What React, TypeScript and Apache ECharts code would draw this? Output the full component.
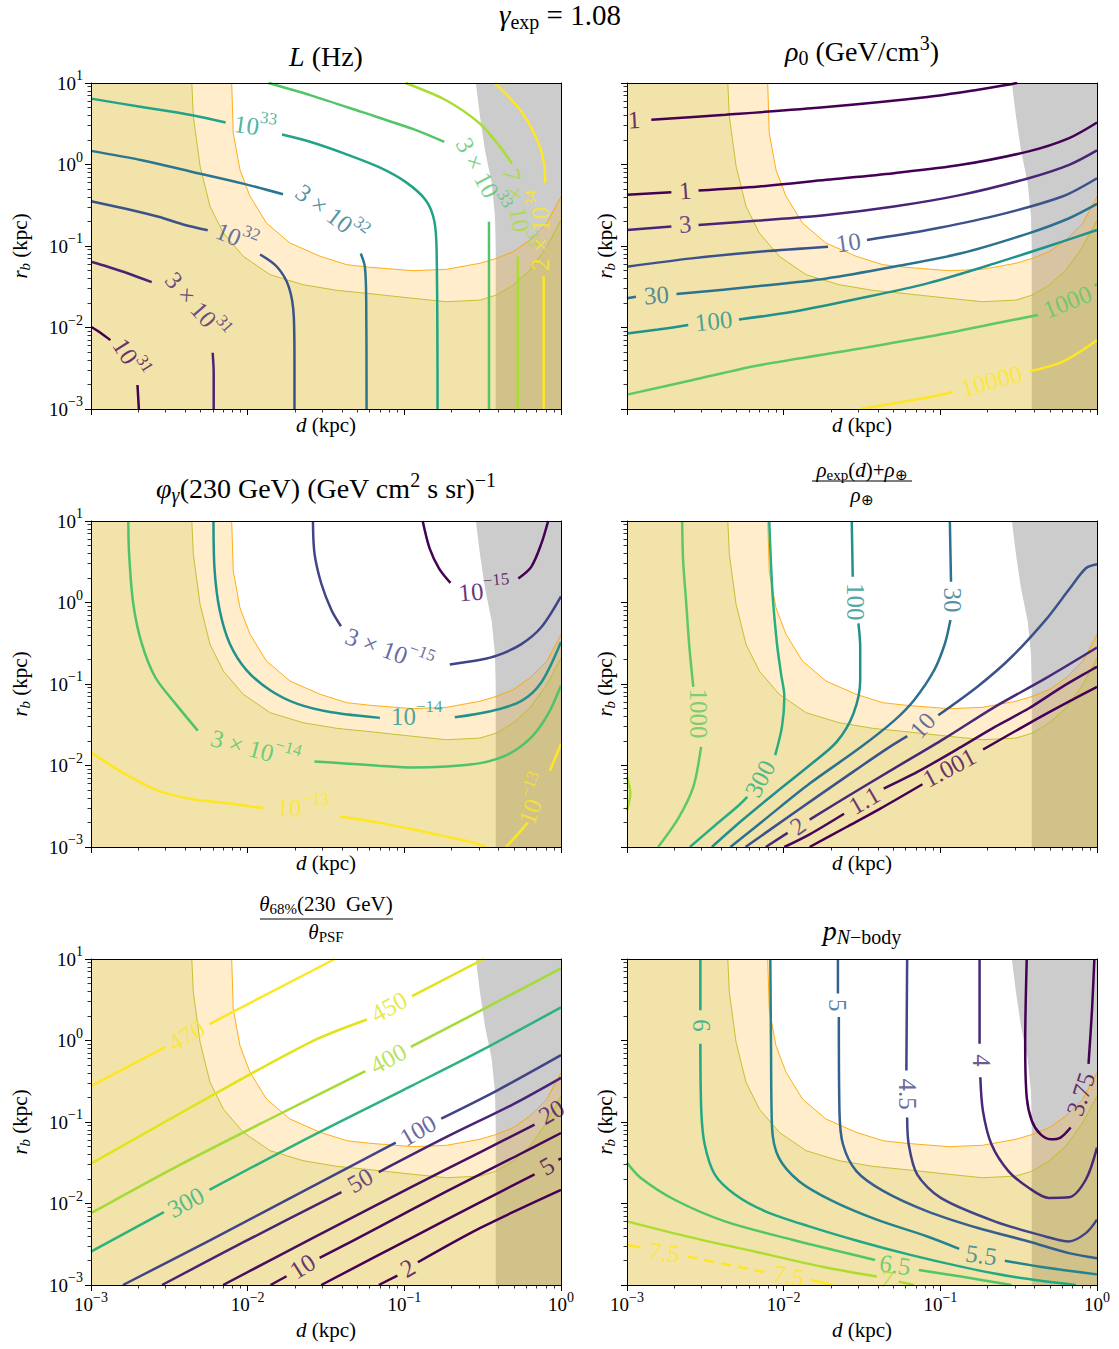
import React, { useEffect, useRef } from 'react';
import * as echarts from 'echarts';

type Pt = [number, number];
type Seg = Pt[];
type LabelAt = [number, number, number];

const FONT = 'Liberation Serif';

// ---------- shared region boundaries (d kpc, r_b kpc) ----------
const INNER_BOUNDARY: Pt[] = [
  [7.91e-3, 10], [8.09e-3, 2.44], [8.93e-3, 0.863], [1.035e-2, 0.408], [1.32e-2, 0.191],
  [1.86e-2, 0.109], [2.9e-2, 0.0748], [4.29e-2, 0.059], [6.04e-2, 0.0548], [0.114, 0.0498],
  [0.186, 0.0518], [0.304, 0.0614], [0.389, 0.0707], [0.495, 0.0851], [0.634, 0.1186],
  [0.811, 0.19], [1, 0.403],
];
const OUTER_BOUNDARY: Pt[] = [
  [4.4e-3, 10], [4.5e-3, 3.9], [4.97e-3, 0.95], [5.75e-3, 0.307], [6.99e-3, 0.1445],
  [9.37e-3, 0.0748], [1.39e-2, 0.0445], [2.26e-2, 0.0335], [3.7e-2, 0.0286], [6.04e-2, 0.026],
  [0.114, 0.0228], [0.186, 0.0207], [0.304, 0.0217], [0.389, 0.0251], [0.495, 0.0332],
  [0.634, 0.0508], [0.811, 0.098], [1, 0.208],
];
const GRAY_BOUNDARY: Pt[] = [
  [0.286, 10], [0.304, 3.9], [0.327, 1.51], [0.361, 0.593], [0.379, 0.233], [0.383, 0.1], [0.383, 1e-3],
];

// ---------- panel 1: L (Hz) ----------
const L_TEXTS = ['10^{31}', '3 × 10^{31}', '10^{32}', '3 × 10^{32}', '10^{33}', '3 × 10^{33}', '7 × 10^{33}', '2 × 10^{34}'];
const L_COLORS = ['#440154', '#482475', '#3b528b', '#2a768e', '#20a386', '#52c569', '#aadc32', '#fde725'];
const L_LINES: Seg[][] = [
  [[[1e-3, 0.0102], [1.16e-3, 8.5e-3], [1.33e-3, 7.0e-3]],
   [[1.98e-3, 1.97e-3], [2.0e-3, 1.42e-3], [2.02e-3, 1e-3]]],
  [[[1e-3, 0.064], [1.28e-3, 0.0556], [1.73e-3, 0.046], [2.44e-3, 0.036]],
   [[5.98e-3, 4.9e-3], [6.07e-3, 2.73e-3], [6.07e-3, 1e-3]]],
  [[[1e-3, 0.355], [1.64e-3, 0.288], [2.7e-3, 0.228], [3.83e-3, 0.185], [5.56e-3, 0.156]],
   [[0.012, 0.0787], [0.01538, 0.0556], [0.0183, 0.0316], [0.0197, 0.0136], [0.0199, 3.3e-3], [0.0199, 1e-3]]],
  [[[1e-3, 1.47], [2.11e-3, 1.13], [4.44e-3, 0.811], [9.35e-3, 0.583], [0.01683, 0.431]],
   [[0.0527, 0.081], [0.056, 0.0556], [0.0571, 0.0217], [0.0574, 1e-3]]],
  [[[1e-3, 6.43], [2.11e-3, 5.08], [4.44e-3, 4.02], [7.23e-3, 3.27]],
   [[0.01656, 2.33], [0.0253, 1.89], [0.0416, 1.36], [0.0684, 0.933], [0.1017, 0.612], [0.137, 0.365], [0.155, 0.207], [0.1607, 0.0889], [0.163, 1e-3]]],
  [[[0.0136, 10], [0.0253, 7.06], [0.0533, 4.42], [0.112, 2.75], [0.18, 1.89]],
   [[0.347, 0.198], [0.347, 1e-3]]],
  [[[0.1017, 10], [0.1846, 6.14], [0.303, 3.18], [0.409, 1.64], [0.486, 1.03]],
   [[0.53, 0.0736], [0.53, 1e-3]]],
  [[[0.379, 10], [0.551, 4.62], [0.706, 1.98], [0.78, 1.03], [0.792, 0.594]],
   [[0.775, 0.0428], [0.775, 1e-3]]],
];
const L_LABEL_AT: LabelAt[][] = [
  [[1.77e-3, 4.18e-3, -58]], [[4.71e-3, 0.0183, -49]], [[8.47e-3, 0.127, -22]], [[0.034, 0.25, -37]],
  [[0.01114, 2.94, -8]], [[0.311, 0.738, -62]], [[0.53, 0.288, -80]], [[0.745, 0.156, 90]],
];

// ---------- panel 2: rho_0 ----------
const RHO_TEXTS = ['1', '1', '3', '10', '30', '100', '1000', '10000'];
const RHO_COLORS = ['#440154', '#440154', '#482576', '#3b528b', '#2c728e', '#21918c', '#5ec962', '#fde725'];
const RHO_LINES: Seg[][] = [
  [[[1.43e-3, 3.54], [4.25e-3, 4.08], [0.01875, 5.07], [0.0828, 6.73], [0.174, 8.28], [0.293, 9.8], [0.31, 10]]],
  [[[1e-3, 0.424], [1.92e-3, 0.457]],
   [[2.86e-3, 0.479], [6.97e-3, 0.537], [0.01875, 0.648], [0.0505, 0.782], [0.136, 0.99], [0.366, 1.45], [0.664, 2.11], [1, 3.28]]],
  [[[1e-3, 0.157], [1.92e-3, 0.173]],
   [[2.86e-3, 0.181], [6.97e-3, 0.205], [0.01875, 0.24], [0.0505, 0.305], [0.136, 0.424], [0.366, 0.679], [0.664, 0.99], [1, 1.49]]],
  [[[1e-3, 0.0557], [2.59e-3, 0.0705], [6.97e-3, 0.0851], [0.0192, 0.0982]],
   [[0.034, 0.1186], [0.0828, 0.157], [0.223, 0.234], [0.6, 0.405], [1, 0.679]]],
  [[[1e-3, 0.0228], [1.14e-3, 0.0238]],
   [[2.07e-3, 0.0257], [6.97e-3, 0.0322], [0.01875, 0.04], [0.0505, 0.0557], [0.136, 0.0813], [0.366, 0.143], [0.664, 0.219], [1, 0.328]]],
  [[[1e-3, 8.44e-3], [1.58e-3, 9.44e-3], [2.46e-3, 0.0107]],
   [[5.18e-3, 0.01254], [0.01143, 0.0156], [0.0308, 0.0228], [0.0828, 0.0348], [0.223, 0.0612], [0.6, 0.113], [1, 0.157]]],
  [[[1e-3, 1.5e-3], [2.59e-3, 2.25e-3], [6.97e-3, 3.44e-3], [0.0308, 5.52e-3], [0.0828, 7.68e-3], [0.223, 0.0112], [0.42, 0.0142]],
   [[0.966, 0.0328], [1, 0.0341]]],
  [[[0.0308, 1e-3], [0.0828, 1.38e-3], [0.12, 1.62e-3]],
   [[0.373, 2.9e-3], [0.6, 3.78e-3], [1, 6.98e-3]]],
];
const RHO_LABEL_AT: LabelAt[][] = [
  [[1.11e-3, 3.54, 3]], [[2.35e-3, 0.479, 4]], [[2.35e-3, 0.186, 4]], [[0.0259, 0.111, 8]],
  [[1.54e-3, 0.025, 4]], [[3.57e-3, 0.012, 6]], [[0.647, 0.0207, 22]], [[0.212, 2.21e-3, 15]],
];

// ---------- panel 3: phi_gamma ----------
const PHI_TEXTS = ['10^{−15}', '3 × 10^{−15}', '10^{−14}', '3 × 10^{−14}', '10^{−13}'];
const PHI_COLORS = ['#440154', '#414487', '#21918c', '#4ec36b', '#fde725'];
const PHI_LINES: Seg[][] = [
  [[[0.131, 10], [0.145, 4.61], [0.1667, 2.61], [0.197, 1.74]],
   [[0.534, 1.97], [0.646, 2.74], [0.75, 5.31], [0.828, 10]]],
  [[[0.0261, 10], [0.0267, 4.0], [0.0295, 1.71], [0.0343, 0.803], [0.0394, 0.511]],
   [[0.195, 0.174], [0.306, 0.198], [0.393, 0.224], [0.556, 0.306], [0.75, 0.5], [1, 1.19]]],
  [[[6.05e-3, 10], [6.15e-3, 2.5], [6.63e-3, 0.803], [7.69e-3, 0.312], [9.86e-3, 0.147], [0.014, 0.0832], [0.0208, 0.057], [0.0343, 0.045], [0.0698, 0.0384]],
   [[0.21, 0.039], [0.355, 0.0463], [0.556, 0.0615], [0.75, 0.105], [1, 0.327]]],
  [[[1.73e-3, 10], [1.75e-3, 4.0], [1.86e-3, 0.97], [2.11e-3, 0.312], [2.57e-3, 0.121], [3.47e-3, 0.057], [4.8e-3, 0.0268]],
   [[0.0267, 0.0112], [0.0418, 0.0106], [0.0687, 9.93e-3], [0.113, 9.46e-3], [0.186, 9.75e-3], [0.306, 0.0107], [0.456, 0.0136], [0.646, 0.0222], [0.828, 0.043], [1, 0.096]]],
  [[[1e-3, 0.0145], [1.28e-3, 0.0106], [1.73e-3, 7.48e-3], [2.7e-3, 4.89e-3], [4.45e-3, 3.86e-3], [7.69e-3, 3.41e-3], [0.01265, 2.99e-3]],
   [[0.0388, 2.36e-3], [0.0687, 1.99e-3], [0.113, 1.65e-3], [0.186, 1.34e-3], [0.277, 1.13e-3], [0.334, 1e-3]],
   [[0.445, 1e-3], [0.529, 1.43e-3], [0.614, 1.99e-3]],
   [[0.849, 8.61e-3], [1, 0.0184]]],
];
const PHI_LABEL_AT: LabelAt[][] = [
  [[0.324, 1.39, 5]], [[0.0798, 0.258, -20]], [[0.12, 0.0398, 0]], [[0.01117, 0.0159, -15]],
  [[0.0224, 2.99e-3, -3], [0.678, 3.86e-3, 70]],
];

// ---------- panel 4: (rho_exp(d)+rho_E)/rho_E ----------
const DEN_TEXTS = ['1.001', '1.1', '2', '10', '30', '100', '300', '1000', ''];
const DEN_COLORS = ['#440154', '#46085c', '#482878', '#3b528b', '#2c728e', '#21918c', '#28ae80', '#5ec962', '#addc30'];
const DEN_LINES: Seg[][] = [
  [[[0.01465, 1e-3], [0.0252, 1.76e-3], [0.0414, 2.96e-3], [0.0769, 5.89e-3]],
   [[0.1875, 0.0157], [0.366, 0.0327], [0.6, 0.055], [1, 0.0923]]],
  [[[0.0101, 1e-3], [0.01465, 1.43e-3], [0.0243, 2.56e-3]],
   [[0.0435, 5.21e-3], [0.0714, 8.34e-3], [0.136, 0.0169], [0.223, 0.0298], [0.366, 0.05], [0.6, 0.0923], [1, 0.163]]],
  [[[7.69e-3, 1e-3], [0.0106, 1.49e-3]],
   [[0.01465, 2.17e-3], [0.0252, 4.11e-3], [0.0505, 9.16e-3], [0.106, 0.0214], [0.223, 0.0525], [0.469, 0.117], [1, 0.28]]],
  [[[5.71e-3, 1e-3], [0.01143, 2.56e-3], [0.024, 6.9e-3], [0.0457, 0.0161], [0.0615, 0.0229]],
   [[0.097, 0.0414], [0.174, 0.094], [0.286, 0.216], [0.469, 0.608], [0.664, 1.45], [0.849, 2.63], [1, 2.94]]],
  [[[4.57e-3, 1e-3], [7.69e-3, 2.23e-3], [0.01465, 6.0e-3], [0.0308, 0.0166], [0.0505, 0.0353], [0.0679, 0.0633], [0.0914, 0.148], [0.107, 0.314], [0.116, 0.608]],
   [[0.117, 1.8], [0.115, 10]]],
  [[[3.48e-3, 1e-3], [5.43e-3, 2.13e-3], [9.37e-3, 5.06e-3], [0.01465, 0.01007], [0.0218, 0.0195], [0.0279, 0.0435], [0.0308, 0.111], [0.0308, 0.286], [0.03, 0.553]],
   [[0.0276, 2.07], [0.0272, 10]]],
  [[[2.52e-3, 1e-3], [3.66e-3, 1.85e-3], [5.18e-3, 3.25e-3], [5.86e-3, 4.11e-3]],
   [[8.83e-3, 0.0134], [9.75e-3, 0.0298], [0.0101, 0.0695], [9.61e-3, 0.135], [9.06e-3, 0.314], [8.49e-3, 1.29], [8.09e-3, 10]]],
  [[[1.58e-3, 1e-3], [2.12e-3, 2.23e-3], [2.65e-3, 5.46e-3], [2.97e-3, 0.0169]],
   [[2.65e-3, 0.0923], [2.5e-3, 0.286], [2.38e-3, 1.07], [2.28e-3, 3.32], [2.25e-3, 10]]],
  [[[1e-3, 7.24e-3], [1.05e-3, 4.52e-3], [1e-3, 2.82e-3]]],
];
const DEN_LABEL_AT: LabelAt[][] = [
  [[0.114, 9.41e-3, 28]], [[0.0327, 3.74e-3, 30]], [[0.0123, 1.81e-3, 35]], [[0.0769, 0.0312, 48]],
  [[0.12, 1.07, -90]], [[0.0286, 1.02, -90]], [[7.06e-3, 6.9e-3, 62]], [[2.88e-3, 0.0435, -90]], [],
];

// ---------- panel 5: theta_68 / theta_PSF ----------
const TH_TEXTS = ['2', '5', '10', '20', '50', '100', '300', '400', '450', '470'];
const TH_COLORS = ['#440154', '#440256', '#45065a', '#46105f', '#482475', '#414487', '#2db27d', '#a5db36', '#e2e418', '#fde725'];
const TH_LINES: Seg[][] = [
  [[[0.0687, 1e-3], [0.0903, 1.3e-3]], [[0.122, 1.9e-3], [0.306, 5.02e-3], [1, 0.0147]]],
  [[[0.0295, 1e-3], [0.113, 3.85e-3], [0.306, 0.0104], [0.678, 0.0228]], [[0.962, 0.0344], [1, 0.0357]]],
  [[[0.014, 1e-3], [0.0177, 1.28e-3]], [[0.0288, 2.15e-3], [0.0687, 5.12e-3], [0.186, 0.0141], [0.504, 0.0372], [1, 0.0733]]],
  [[[6.97e-3, 1e-3], [0.0254, 3.68e-3], [0.113, 0.0162], [0.306, 0.0428], [0.678, 0.0927]]],
  [[[2.84e-3, 1e-3], [9.4e-3, 3.35e-3], [0.0397, 0.0138]], [[0.0687, 0.0243], [0.186, 0.0655], [0.504, 0.168], [1, 0.348]]],
  [[[1.6e-3, 1e-3], [5.7e-3, 3.51e-3], [0.0254, 0.0159], [0.0881, 0.0557]], [[0.172, 0.11], [0.393, 0.245], [1, 0.661]]],
  [[[1e-3, 2.57e-3], [2.92e-3, 7.82e-3]], [[5.7e-3, 0.0147], [0.0254, 0.0667], [0.113, 0.282], [0.306, 0.746], [1, 2.55]]],
  [[[1e-3, 7.6e-3], [3.47e-3, 0.028], [0.01545, 0.121], [0.0564, 0.42]], [[0.11, 0.836], [0.306, 2.32], [1, 7.68]]],
  [[[1e-3, 0.0308], [5.7e-3, 0.203], [0.0254, 0.964], [0.0578, 1.81]], [[0.112, 3.51], [0.321, 10]]],
  [[[1e-3, 0.275], [2.99e-3, 0.836]], [[5.7e-3, 1.59], [0.036, 10]]],
];
const TH_LABEL_AT: LabelAt[][] = [
  [[0.105, 1.62e-3, 30]], [[0.814, 0.0288, 30]], [[0.0224, 1.7e-3, 32]], [[0.869, 0.133, 30]],
  [[0.0522, 0.0192, 30]], [[0.122, 0.079, 30]], [[4.03e-3, 0.0104, 28]], [[0.079, 0.601, 28]],
  [[0.0798, 2.59, 29]], [[4.07e-3, 1.14, 30]],
];

// ---------- panel 6: p_N-body ----------
const PN_TEXTS = ['3.75', '4', '4.5', '5', '5.5', '6', '6.5', '7', '7.5'];
const PN_COLORS = ['#440154', '#482878', '#414487', '#355f8d', '#25838e', '#22a884', '#52c569', '#addc30', '#fde725'];
const PN_LINES: Seg[][] = [
  [[[0.356, 10], [0.348, 0.912], [0.356, 0.2], [0.384, 0.103], [0.435, 0.0708], [0.505, 0.0614], [0.585, 0.0644], [0.679, 0.0855]],
   [[0.883, 0.516], [0.929, 2.35], [0.962, 10]]],
  [[[0.178, 10], [0.178, 0.912]],
   [[0.18, 0.354], [0.187, 0.137], [0.212, 0.0533], [0.272, 0.025], [0.366, 0.0156], [0.492, 0.0117], [0.662, 0.0119], [0.849, 0.0197], [1, 0.0485]]],
  [[[0.0614, 10], [0.0607, 0.428]],
   [[0.0614, 0.1135], [0.0628, 0.0533], [0.0711, 0.0228], [0.1007, 0.0117], [0.222, 6.04e-3], [0.469, 3.94e-3], [0.662, 3.42e-3], [0.849, 4.33e-3], [1, 6.34e-3]]],
  [[[0.0222, 10], [0.0222, 3.78]],
   [[0.0225, 1.94], [0.0227, 0.137], [0.0239, 0.0533], [0.0291, 0.025], [0.0434, 0.0142], [0.0826, 8.02e-3], [0.174, 5.0e-3], [0.366, 3.42e-3], [0.662, 2.46e-3], [1, 2.13e-3]]],
  [[[8.22e-3, 10], [8.3e-3, 0.912], [8.43e-3, 0.0855], [9.31e-3, 0.0365], [0.01253, 0.0188], [0.0206, 0.0107], [0.0393, 6.34e-3], [0.0826, 3.94e-3], [0.132, 2.78e-3]],
   [[0.258, 1.98e-3], [0.469, 1.64e-3], [1, 1.35e-3]]],
  [[[2.94e-3, 10], [2.94e-3, 2.35]],
   [[2.94e-3, 0.912], [2.98e-3, 0.137], [3.13e-3, 0.0533], [3.63e-3, 0.0228], [4.89e-3, 0.0129], [7.64e-3, 8.02e-3], [0.01455, 5.24e-3], [0.0306, 3.42e-3], [0.0644, 2.34e-3], [0.1355, 1.68e-3], [0.285, 1.27e-3], [0.731, 1e-3]]],
  [[[1e-3, 0.0316], [1.22e-3, 0.0207], [2.0e-3, 0.0112], [4.22e-3, 6.04e-3], [0.01135, 3.59e-3], [0.0383, 2.03e-3]],
   [[0.0729, 1.53e-3], [0.1355, 1.27e-3], [0.285, 1e-3]]],
  [[[1e-3, 6.04e-3], [2.56e-3, 3.84e-3], [6.92e-3, 2.51e-3], [0.01866, 1.64e-3], [0.0393, 1.27e-3]],
   [[0.0542, 1.1e-3], [0.0678, 1e-3]]],
  [[[1e-3, 3.11e-3], [1.22e-3, 2.88e-3]],
   [[2.44e-3, 2.23e-3], [7.64e-3, 1.43e-3]],
   [[0.0149, 1.15e-3], [0.0206, 1e-3]]],
];
const PN_LABEL_AT: LabelAt[][] = [
  [[0.787, 0.22, 72]], [[0.1825, 0.568, -90]], [[0.0614, 0.22, -90]], [[0.0222, 2.71, -90]],
  [[0.1825, 2.34e-3, -8]], [[2.98e-3, 1.53, -90]], [[0.0515, 1.77e-3, -8]], [[0.0456, 1.19e-3, -10]],
  [[1.73e-3, 2.53e-3, -8], [0.0108, 1.3e-3, -10]],
];
const PN_DASHED: [number, number][] = [[8, 1]];

// ---------- axis tick positions ----------
const X_MAJOR = [1e-3, 1e-2, 1e-1, 1];
const Y_MAJOR = [1e-3, 1e-2, 1e-1, 1, 10];
const minorBetween = (decades: number[]) => {
  const out: number[] = [];
  for (let i = 0; i < decades.length - 1; i++) for (let k = 2; k <= 9; k++) out.push(+(k * decades[i]).toPrecision(6));
  return out;
};
const X_MINOR = minorBetween(X_MAJOR);
const Y_MINOR = minorBetween(Y_MAJOR);

// ---------- layout ----------
const GRIDS = [
  { left: 91, top: 83 }, { left: 627, top: 83 },
  { left: 91, top: 521 }, { left: 627, top: 521 },
  { left: 91, top: 959 }, { left: 627, top: 959 },
];
const GW = 470;
const GH = 326;

function toRich(s: string): string {
  const parts = s.split(/\^\{([^}]*)\}/);
  return parts.map((p, i) => (p === '' ? '' : i % 2 ? `{s|${p}}` : `{n|${p}}`)).join('');
}

const LABEL_RICH = {
  n: { fontSize: 25, fontFamily: FONT },
  s: { fontSize: 17, fontFamily: FONT, padding: [0, 0, 20, 0] },
};
const TICK_RICH = {
  b: { fontSize: 19, fontFamily: FONT, color: '#000' },
  e: { fontSize: 14, fontFamily: FONT, color: '#000', padding: [0, 0, 15, 0] },
};
const NAME_RICH = {
  i: { fontSize: 21, fontFamily: FONT, fontStyle: 'italic', color: '#000' },
  n: { fontSize: 21, fontFamily: FONT, color: '#000' },
  sub: { fontSize: 15, fontFamily: FONT, fontStyle: 'italic', color: '#000', padding: [9, 0, 0, 0] },
};

function tickFmt(v: number) {
  const e = Math.round(Math.log10(v));
  return `{b|10}{e|${e < 0 ? '−' + -e : e}}`;
}

function axesFor(gi: number) {
  const col = gi % 2;
  const row = Math.floor(gi / 2);
  const line = { show: true, onZero: false, lineStyle: { color: '#000', width: 1 } };
  const common = { type: 'log', logBase: 10, gridIndex: gi, splitLine: { show: false }, z: 10, silent: true };
  const xs = [
    {
      ...common, min: 1e-3, max: 1, position: 'bottom', axisLine: line,
      axisTick: { show: true, length: 6, lineStyle: { color: '#000', width: 1 } },
      axisLabel: { show: row === 2, margin: 5, formatter: tickFmt, rich: TICK_RICH, showMinLabel: true, showMaxLabel: true },
      name: '{i|d}{n| (kpc)}', nameLocation: 'middle', nameGap: row === 2 ? 34 : 5,
      nameTextStyle: { rich: NAME_RICH, fontFamily: FONT, fontSize: 21, color: '#000' },
    },
    {
      ...common, min: 1e-3, max: 1, position: 'bottom', axisLine: { show: false, onZero: false },
      axisTick: { show: true, length: 3.5, customValues: X_MINOR, lineStyle: { color: '#000', width: 0.8 } },
      axisLabel: { show: false },
    },
    {
      ...common, min: 1e-3, max: 1, position: 'top', axisLine: line,
      axisTick: { show: false }, axisLabel: { show: false },
    },
  ];
  const ys = [
    {
      ...common, min: 1e-3, max: 10, position: 'left', axisLine: line,
      axisTick: { show: true, length: 6, lineStyle: { color: '#000', width: 1 } },
      axisLabel: { show: col === 0, margin: 8, formatter: tickFmt, rich: TICK_RICH, showMinLabel: true, showMaxLabel: true },
      name: '{i|r}{sub|b}{n| (kpc)}', nameLocation: 'middle', nameRotate: 90, nameGap: col === 0 ? 59 : 10,
      nameTextStyle: { rich: NAME_RICH, fontFamily: FONT, fontSize: 21, color: '#000' },
    },
    {
      ...common, min: 1e-3, max: 10, position: 'left', axisLine: { show: false, onZero: false },
      axisTick: { show: true, length: 3.5, customValues: Y_MINOR, lineStyle: { color: '#000', width: 0.8 } },
      axisLabel: { show: false },
    },
    {
      ...common, min: 1e-3, max: 10, position: 'right', axisLine: line,
      axisTick: { show: false }, axisLabel: { show: false },
    },
  ];
  return { xs, ys };
}

function polySeries(gi: number, pts: Pt[], fill: string) {
  return {
    type: 'custom', xAxisIndex: gi * 3, yAxisIndex: gi * 3, silent: true, z: 1,
    data: [[0.01, 0.1]],
    renderItem: (_p: any, api: any) => ({
      type: 'polygon', silent: true,
      shape: { points: pts.map((p) => api.coord(p)) },
      style: { fill },
    }),
  };
}

function lineSeries(gi: number, data: Pt[], color: string, width: number, z: number, smooth: number, dashed = false) {
  return {
    type: 'line', xAxisIndex: gi * 3, yAxisIndex: gi * 3, data, symbol: 'none', showSymbol: false,
    smooth, silent: true, z, clip: true,
    lineStyle: { color, width, type: dashed ? [10, 7] : 'solid' },
  };
}

function regionSeries(gi: number) {
  return [
    polySeries(gi, [...GRAY_BOUNDARY, [1, 1e-3], [1, 10]], '#cccccc'),
    polySeries(gi, [[1e-3, 10], ...INNER_BOUNDARY, [1, 1e-3], [1e-3, 1e-3]], 'rgba(255,165,0,0.2)'),
    polySeries(gi, [[1e-3, 10], ...OUTER_BOUNDARY, [1, 1e-3], [1e-3, 1e-3]], 'rgba(188,189,34,0.2)'),
    lineSeries(gi, INNER_BOUNDARY, '#ffa500', 0.9, 2, 0),
    lineSeries(gi, OUTER_BOUNDARY, '#bcbd22', 0.9, 2, 0),
  ];
}

function contourSeries(gi: number, lines: Seg[][], colors: string[], texts: string[], at: LabelAt[][], dashed: [number, number][] = []) {
  const out: any[] = [];
  lines.forEach((segs, li) => {
    segs.forEach((seg, si) => {
      const isDashed = dashed.some(([a, b]) => a === li && b === si);
      out.push(lineSeries(gi, seg, colors[li], 2.5, 3, 0.3, isDashed));
    });
  });
  const labelData: any[] = [];
  at.forEach((arr, li) =>
    arr.forEach(([d, r, a]) =>
      labelData.push({ value: [d, r], name: toRich(texts[li]), label: { rotate: a, color: colors[li] } }),
    ),
  );
  out.push({
    type: 'scatter', xAxisIndex: gi * 3, yAxisIndex: gi * 3, data: labelData, symbolSize: 1,
    itemStyle: { color: 'rgba(0,0,0,0)' }, silent: true, z: 4,
    label: { show: true, position: 'inside', formatter: (p: any) => p.name, fontFamily: FONT, fontSize: 25, rich: LABEL_RICH },
  });
  return out;
}

function titleRich(size: number) {
  const f = { fontFamily: FONT, fill: '#000' };
  return {
    i: { ...f, fontSize: size, fontStyle: 'italic' },
    n: { ...f, fontSize: size },
    sub: { ...f, fontSize: Math.round(size * 0.7), padding: [Math.round(size * 0.45), 0, 0, 0] },
    subi: { ...f, fontSize: Math.round(size * 0.7), fontStyle: 'italic', padding: [Math.round(size * 0.45), 0, 0, 0] },
    sup: { ...f, fontSize: Math.round(size * 0.7), padding: [0, 0, Math.round(size * 0.6), 0] },
  };
}

function textEl(x: number, y: number, text: string, size: number) {
  return {
    type: 'text', x, y, silent: true, z: 20,
    style: {
      text, rich: titleRich(size), fontFamily: FONT, fontSize: size, fill: '#000',
      align: 'center', verticalAlign: 'middle', textAlign: 'center', textVerticalAlign: 'middle',
    },
  };
}

function buildOption() {
  const xAxis: any[] = [];
  const yAxis: any[] = [];
  GRIDS.forEach((_, gi) => {
    const { xs, ys } = axesFor(gi);
    xAxis.push(...xs);
    yAxis.push(...ys);
  });
  const series: any[] = [];
  for (let gi = 0; gi < 6; gi++) series.push(...regionSeries(gi));
  series.push(...contourSeries(0, L_LINES, L_COLORS, L_TEXTS, L_LABEL_AT));
  series.push(...contourSeries(1, RHO_LINES, RHO_COLORS, RHO_TEXTS, RHO_LABEL_AT));
  series.push(...contourSeries(2, PHI_LINES, PHI_COLORS, PHI_TEXTS, PHI_LABEL_AT));
  series.push(...contourSeries(3, DEN_LINES, DEN_COLORS, DEN_TEXTS, DEN_LABEL_AT));
  series.push(...contourSeries(4, TH_LINES, TH_COLORS, TH_TEXTS, TH_LABEL_AT));
  series.push(...contourSeries(5, PN_LINES, PN_COLORS, PN_TEXTS, PN_LABEL_AT, PN_DASHED));

  const graphic = [
    textEl(560, 15, '{i|γ}{sub|exp}{n| = 1.08}', 29),
    textEl(326, 56, '{i|L}{n| (Hz)}', 28),
    textEl(862, 51, '{i|ρ}{sub|0}{n| (GeV/cm}{sup|3}{n|)}', 28),
    textEl(326, 488, '{i|φ}{subi|γ}{n|(230 GeV) (GeV cm}{sup|2}{n| s sr)}{sup|−1}', 28),
    textEl(862, 470, '{i|ρ}{sub|exp}{n|(}{i|d}{n|)+}{i|ρ}{sub|⊕}', 21),
    { type: 'line', silent: true, z: 20, shape: { x1: 812, y1: 481, x2: 912, y2: 481 }, style: { stroke: '#000', lineWidth: 1.2 } },
    textEl(862, 495, '{i|ρ}{sub|⊕}', 21),
    textEl(326, 904, '{i|θ}{sub|68%}{n|(230  GeV)}', 21),
    { type: 'line', silent: true, z: 20, shape: { x1: 260, y1: 919, x2: 393, y2: 919 }, style: { stroke: '#000', lineWidth: 1.2 } },
    textEl(326, 932, '{i|θ}{sub|PSF}', 21),
    textEl(862, 930, '{i|p}{subi|N}{sub|−body}', 28),
  ];

  return {
    animation: false,
    backgroundColor: '#ffffff',
    textStyle: { fontFamily: FONT },
    grid: GRIDS.map((g) => ({ left: g.left, top: g.top, width: GW, height: GH, containLabel: false, show: false })),
    xAxis,
    yAxis,
    series,
    graphic,
  };
}

export default function App() {
  const ref = useRef<HTMLDivElement>(null);
  useEffect(() => {
    document.body.style.margin = '0';
    const chart = echarts.init(ref.current as HTMLDivElement, null, { renderer: 'svg' });
    chart.setOption(buildOption() as any);
    return () => chart.dispose();
  }, []);
  return <div ref={ref} style={{ width: 1119, height: 1349 }} />;
}
